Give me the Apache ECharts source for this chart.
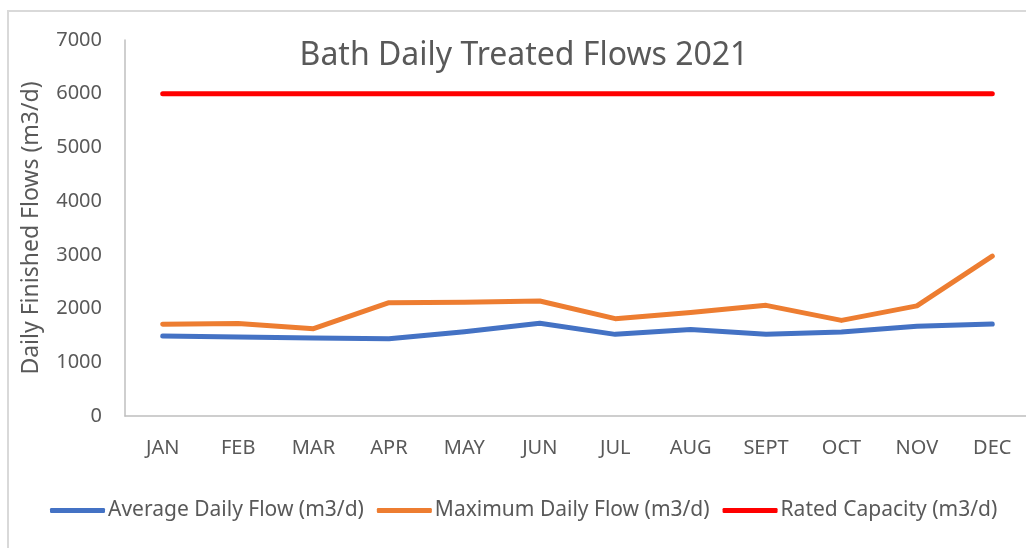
<!DOCTYPE html>
<html>
<head>
<meta charset="utf-8">
<script src="https://cdn.jsdelivr.net/npm/echarts@6/dist/echarts.min.js"></script>
<style>
    html, body { margin: 0; padding: 0; background: #fff; }
    #frame {
        position: absolute; left: 7px; top: 10px; width: 1030px; height: 560px;
        border: 2px solid #d9d9d9; box-sizing: border-box;
    }
    #chart { position: absolute; left: 0; top: 0; width: 1026px; height: 548px; }
</style>
</head>
<body>
<div id="frame"></div>
<div id="chart"></div>
<script>
// months on the category axis
var months = ['JAN', 'FEB', 'MAR', 'APR', 'MAY', 'JUN', 'JUL', 'AUG', 'SEPT', 'OCT', 'NOV', 'DEC']
// values (m3/d)
var avgFlow = [1490, 1470, 1450, 1440, 1570, 1725, 1520, 1610, 1520, 1565, 1670, 1713]
var maxFlow = [1707, 1720, 1626, 2110, 2120, 2140, 1812, 1925, 2060, 1780, 2050, 2975]
var ratedCapacity = [6000, 6000, 6000, 6000, 6000, 6000, 6000, 6000, 6000, 6000, 6000, 6000]
var yTicks = [0, 1000, 2000, 3000, 4000, 5000, 6000, 7000]

var font = 'Noto Sans'
var textColor = '#595959'

var myChart = echarts.init(document.getElementById('chart'))

function lineSeries(name, data, color) {
    return {
        name: name,
        type: 'line',
        data: data,
        symbol: 'none',
        lineStyle: { color: color, width: 5, cap: 'round', join: 'round' },
        itemStyle: { color: color }
    }
}

var option = {
    animation: false,
    textStyle: { fontFamily: font },
    title: {
        text: 'Bath Daily Treated Flows 2021',
        left: 519,
        textAlign: 'center',
        top: 35,
        textStyle: { fontFamily: font, fontSize: 32, fontWeight: 'normal', color: textColor }
    },
    legend: {
        left: 50,
        top: 500,
        padding: 0,
        icon: 'roundRect',
        itemWidth: 55,
        itemHeight: 5,
        itemGap: 13,
        textStyle: { fontFamily: font, fontSize: 21, color: textColor, padding: [0, 0, 0, -2] },
        data: ['Average Daily Flow (m3/d)', 'Maximum Daily Flow (m3/d)', 'Rated Capacity (m3/d)']
    },
    grid: { left: 125, top: 40, width: 905, height: 376, containLabel: false, outerBoundsMode: 'none' },
    xAxis: {
        type: 'category',
        data: months,
        boundaryGap: true,
        axisLine: { lineStyle: { color: '#bfbfbf', width: 1.5 } },
        axisTick: { show: false },
        axisLabel: { color: textColor, fontSize: 20, margin: 22, fontFamily: font }
    },
    yAxis: {
        type: 'value',
        min: yTicks[0],
        max: yTicks[yTicks.length - 1],
        interval: yTicks[1] - yTicks[0],
        name: 'Daily Finished Flows (m3/d)',
        nameLocation: 'middle',
        nameGap: 82,
        nameRotate: 90,
        nameTextStyle: { color: textColor, fontSize: 23, fontFamily: font },
        axisLine: { show: true, lineStyle: { color: '#bfbfbf', width: 1.5 } },
        axisTick: { show: false },
        splitLine: { show: false },
        axisLabel: {
            color: textColor, fontSize: 20, margin: 23, fontFamily: font,
            formatter: function(v) { return String(v) }
        }
    },
    series: [
        lineSeries('Average Daily Flow (m3/d)', avgFlow, '#4472c4'),
        lineSeries('Maximum Daily Flow (m3/d)', maxFlow, '#ed7d31'),
        lineSeries('Rated Capacity (m3/d)', ratedCapacity, '#ff0000')
    ]
}

myChart.setOption(option)

window.addEventListener('resize', function() {
    myChart.resize()
})
</script>
</body>
</html>
